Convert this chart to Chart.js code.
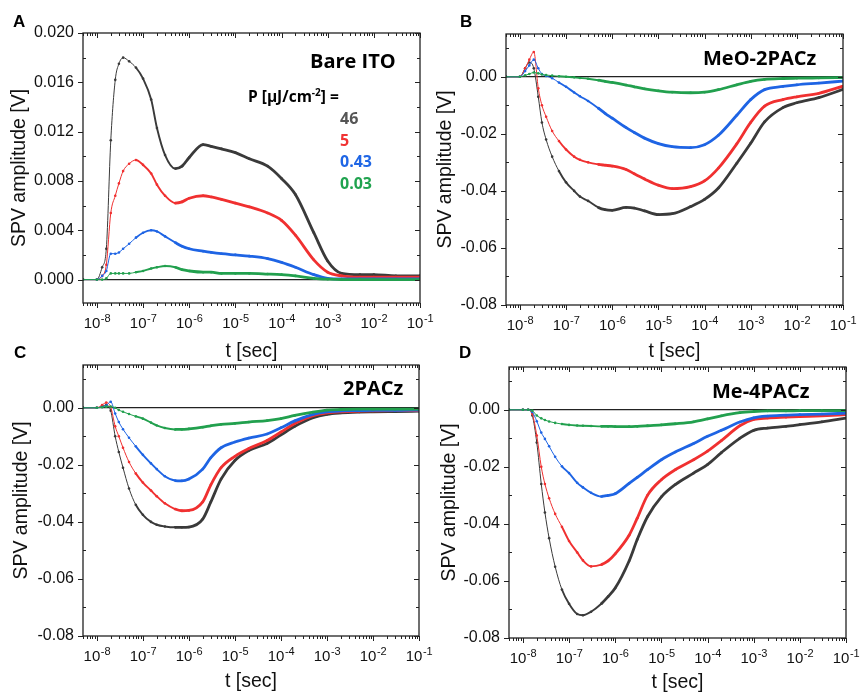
<!DOCTYPE html>
<html><head><meta charset="utf-8">
<script src="https://cdn.jsdelivr.net/npm/chart.js@4.4.1/dist/chart.umd.min.js"></script>
<style>
html,body{margin:0;padding:0;background:#fff;}
#wrap{position:relative;width:861px;height:693px;overflow:hidden;background:#fff}
canvas{position:absolute;left:0;top:0;}
</style></head><body><div id="wrap">
<canvas id="cA" width="861" height="693"></canvas>
<canvas id="cB" width="861" height="693"></canvas>
<canvas id="cC" width="861" height="693"></canvas>
<canvas id="cD" width="861" height="693"></canvas>
</div>
<script>
// ---------------- data ----------------
const tSec = [5e-9, 1e-8, 1.3e-8, 1.6e-8, 2e-8, 2.5e-8, 3e-8, 3.7e-8, 5e-8, 7e-8, 1e-7, 1.5e-7, 2e-7, 3e-7, 5e-7, 7e-7, 1e-6, 2e-6, 3e-6, 5e-6, 1e-5, 2e-5, 5e-5, 1e-4, 2e-4, 5e-4, 1e-3, 2e-3, 5e-3, 1e-2, 3e-2, 1e-1];

const seriesLabels = ['46', '5', '0.43', '0.03'];
const panelNames = ['Bare ITO', 'MeO-2PACz', '2PACz', 'Me-4PACz'];
const panelLetters = ['A', 'B', 'C', 'D'];
const yTicksA = [0, 0.004, 0.008, 0.012, 0.016, 0.020];
const yTicksSAM = [-0.08, -0.06, -0.04, -0.02, 0.00];
const xDecades = [1e-8, 1e-7, 1e-6, 1e-5, 1e-4, 1e-3, 1e-2, 1e-1];

// Panel A: Bare ITO
const A_46  = [0, 0, 0.0010, 0.0025, 0.0113, 0.0162, 0.0175, 0.0180, 0.0177, 0.0172, 0.0163, 0.0146, 0.0123, 0.0101, 0.0090, 0.0092, 0.0099, 0.01095, 0.0108, 0.0106, 0.0103, 0.0098, 0.0092, 0.0082, 0.0069, 0.0038, 0.0015, 0.0005, 0.0004, 0.0004, 0.0003, 0.0003];
const A_5   = [0, 0, 0.0003, 0.0012, 0.0054, 0.0068, 0.0078, 0.0088, 0.0094, 0.0097, 0.0093, 0.0086, 0.0077, 0.0068, 0.0062, 0.0063, 0.0066, 0.0068, 0.0067, 0.0065, 0.0062, 0.0059, 0.0054, 0.0048, 0.0036, 0.0016, 0.0006, 0.0003, 0.0002, 0.0002, 0.0002, 0.0002];
const A_043 = [0, 0, 0.0003, 0.0007, 0.0021, 0.0021, 0.0022, 0.0025, 0.0029, 0.0034, 0.0038, 0.0040, 0.0039, 0.0035, 0.0030, 0.0027, 0.0025, 0.0023, 0.0022, 0.0021, 0.0020, 0.0019, 0.0017, 0.0014, 0.0010, 0.0004, 0.0001, 0.00005, 0.00005, 0.00005, 0.00005, 0.00005];
const A_003 = [0, 0, 0, 0.0001, 0.0005, 0.0005, 0.0005, 0.0005, 0.0005, 0.0006, 0.0007, 0.0009, 0.0010, 0.0011, 0.0010, 0.0008, 0.0007, 0.0006, 0.0006, 0.0005, 0.0005, 0.0005, 0.00045, 0.0004, 0.0003, 0.0001, 0.00003, 0, 0, 0, 0, 0];

// Panel B: MeO-2PACz
const B_46  = [0, 0, 0.003, 0.005, 0.003, -0.007, -0.016, -0.022, -0.028, -0.033, -0.037, -0.040, -0.042, -0.0435, -0.0458, -0.0466, -0.0468, -0.0458, -0.0460, -0.0470, -0.0483, -0.0480, -0.0455, -0.0430, -0.0390, -0.0303, -0.0233, -0.0158, -0.0108, -0.0091, -0.0073, -0.0044];
const B_5   = [0, 0, 0.003, 0.006, 0.0087, -0.004, -0.010, -0.014, -0.019, -0.0225, -0.0255, -0.0280, -0.0291, -0.0300, -0.0307, -0.0310, -0.0313, -0.0325, -0.0340, -0.0358, -0.0380, -0.0392, -0.0385, -0.0365, -0.0320, -0.0235, -0.0160, -0.0103, -0.0080, -0.0070, -0.0058, -0.0033];
const B_043 = [0, 0, 0.002, 0.004, 0.006, 0.003, 0.001, 0.0003, -0.0005, -0.002, -0.0035, -0.0055, -0.0068, -0.0085, -0.011, -0.0128, -0.0145, -0.0178, -0.0195, -0.0215, -0.0234, -0.0245, -0.0248, -0.0238, -0.0205, -0.0135, -0.0080, -0.0045, -0.0034, -0.0028, -0.0022, -0.0015];
const B_003 = [0, 0, 0.0005, 0.001, 0.0015, 0.0012, 0.0008, 0.0006, 0.0004, 0.0002, 0, -0.0002, -0.0004, -0.0007, -0.0012, -0.0016, -0.0020, -0.0029, -0.0035, -0.0042, -0.0049, -0.0054, -0.0056, -0.0054, -0.0045, -0.0028, -0.0016, -0.0009, -0.0006, -0.0005, -0.0004, -0.0003];

// Panel C: 2PACz
const C_46  = [0, 0, 0.0005, 0.001, -0.001, -0.010, -0.0155, -0.021, -0.0283, -0.034, -0.0375, -0.0400, -0.0410, -0.0416, -0.0419, -0.0419, -0.0418, -0.0390, -0.0330, -0.0250, -0.0185, -0.0150, -0.0125, -0.0095, -0.0065, -0.0035, -0.0023, -0.0018, -0.0015, -0.0014, -0.0013, -0.0012];
const C_5   = [0, 0, 0.001, 0.0018, 0.0003, -0.0065, -0.0100, -0.0140, -0.0190, -0.0230, -0.0262, -0.0290, -0.0310, -0.0335, -0.0355, -0.0361, -0.0360, -0.0330, -0.0270, -0.0210, -0.0170, -0.0143, -0.0115, -0.0085, -0.0055, -0.0028, -0.0018, -0.0014, -0.0012, -0.0011, -0.0010, -0.0010];
const C_043 = [0, 0, 0.0003, 0.0008, 0.0021, -0.002, -0.0050, -0.0075, -0.0105, -0.0135, -0.0165, -0.0195, -0.0215, -0.0240, -0.0255, -0.0256, -0.0250, -0.0215, -0.0175, -0.0140, -0.0120, -0.0106, -0.0092, -0.0070, -0.0046, -0.0023, -0.0014, -0.0011, -0.0010, -0.0009, -0.0009, -0.0008];
const C_003 = [0, 0, 0.0002, 0.0004, 0.0004, 0, -0.0008, -0.0014, -0.0022, -0.0030, -0.0038, -0.0052, -0.0062, -0.0071, -0.0076, -0.0076, -0.0074, -0.0068, -0.0063, -0.0058, -0.0055, -0.0050, -0.0045, -0.0038, -0.0027, -0.0015, -0.0008, -0.0006, -0.0005, -0.0005, -0.0005, -0.0005];

// Panel D: Me-4PACz
const D_46  = [0, 0, 0, -0.002, -0.0115, -0.0260, -0.0360, -0.0450, -0.0550, -0.0630, -0.0680, -0.0716, -0.0720, -0.0708, -0.0680, -0.0655, -0.0625, -0.0530, -0.0455, -0.0375, -0.0305, -0.0262, -0.0222, -0.0192, -0.0150, -0.0100, -0.0072, -0.0064, -0.0058, -0.0052, -0.0042, -0.0029];
const D_5   = [0, 0, 0, -0.0015, -0.0090, -0.0200, -0.0260, -0.0310, -0.0365, -0.0410, -0.0460, -0.0500, -0.0528, -0.0549, -0.0543, -0.0530, -0.0505, -0.0440, -0.0380, -0.0300, -0.0245, -0.0210, -0.0175, -0.0145, -0.0108, -0.0056, -0.0034, -0.0029, -0.0026, -0.0024, -0.0021, -0.0017];
const D_043 = [0, 0, 0, -0.0008, -0.0040, -0.0080, -0.0102, -0.0128, -0.0165, -0.0198, -0.0222, -0.0256, -0.0272, -0.0291, -0.0304, -0.0300, -0.0294, -0.0258, -0.0237, -0.0210, -0.0175, -0.0148, -0.0118, -0.0093, -0.0072, -0.0043, -0.0028, -0.0022, -0.0019, -0.0017, -0.0015, -0.0012];
const D_003 = [0, 0, 0, -0.0003, -0.0020, -0.0030, -0.0036, -0.0041, -0.0046, -0.0050, -0.0053, -0.0055, -0.0056, -0.0057, -0.0058, -0.0058, -0.0059, -0.0059, -0.0058, -0.0056, -0.0053, -0.0049, -0.0042, -0.0032, -0.0021, -0.0010, -0.0006, -0.0004, -0.0004, -0.0003, -0.0003, -0.0003];

// ---------------- styles / layout ----------------
const seriesColors = ['#3a3a3a', '#f03030', '#1e64e4', '#22a04e'];
const legendColors = ['#555555', '#f03333', '#1f66e5', '#20a34f'];
const SANS = '"Liberation Sans", Arial, sans-serif';
const BOLD2 = '"Open Sans", "Noto Sans", sans-serif';

const panels = [
  {id:'cA', plot:{l:83, t:33, r:420, b:303}, yTitleC:19.5, xTitleC:352, yMin:-0.0019, yMax:0.020, yTicks:yTicksA, dec:3,
   series:[A_46, A_5, A_043, A_003], letter:{x:13, y:27}, name:{x:310, y:68}, legend:true},
  {id:'cB', plot:{l:506, t:34, r:843, b:305}, yTitleC:445.5, xTitleC:352, yMin:-0.08, yMax:0.015, yTicks:yTicksSAM, dec:2,
   series:[B_46, B_5, B_043, B_003], letter:{x:460, y:27}, name:{x:703, y:65}},
  {id:'cC', plot:{l:83, t:365, r:419, b:636}, yTitleC:22, xTitleC:682, yMin:-0.08, yMax:0.015, yTicks:yTicksSAM, dec:2,
   series:[C_46, C_5, C_043, C_003], letter:{x:14, y:358}, name:{x:343, y:395}},
  {id:'cD', plot:{l:509, t:367, r:846, b:638}, yTitleC:449.5, xTitleC:683, yMin:-0.08, yMax:0.015, yTicks:yTicksSAM, dec:2,
   series:[D_46, D_5, D_043, D_003], letter:{x:459, y:358}, name:{x:712, y:398}},
];

const decor = {
  id: 'decor',
  afterDatasetsDraw(chart, args, o) {
    const {ctx, chartArea: a, scales: {x, y}} = chart;
    ctx.save();
    ctx.strokeStyle = '#222';
    ctx.lineWidth = 1;
    const seg = (x1, y1, x2, y2) => { ctx.beginPath(); ctx.moveTo(x1, y1); ctx.lineTo(x2, y2); ctx.stroke(); };
    for (let e = -9; e <= -1; e++) {
      for (let m = 1; m <= 9; m++) {
        const v = m * Math.pow(10, e);
        if (v < x.min * 0.999 || v > x.max * 1.001) continue;
        const px = Math.round(x.getPixelForValue(v)) + 0.5;
        const len = m === 1 ? 5 : 3;
        seg(px, a.bottom, px, a.bottom + len);
        seg(px, a.top, px, a.top + len);
      }
    }
    const tv = y.ticks.map(t => t.value);
    const step = tv[1] - tv[0];
    tv.forEach(v => {
      const py = Math.round(y.getPixelForValue(v)) + 0.5;
      seg(a.left - 5, py, a.left, py);
      seg(a.right, py, a.right - 5, py);
    });
    for (let v = tv[0] - step / 2; v <= y.max + 1e-9; v += step) {
      if (v < y.min) continue;
      const py = Math.round(y.getPixelForValue(v)) + 0.5;
      seg(a.left, py, a.left + 3, py);
      seg(a.right, py, a.right - 3, py);
    }
    ctx.lineWidth = 1.3;
    ctx.strokeRect(a.left, a.top, a.right - a.left, a.bottom - a.top);
    ctx.restore();
  },
  afterDraw(chart, args, o) {
    const {ctx, chartArea: a, scales: {x}} = chart;
    ctx.save();
    ctx.fillStyle = '#111';
    ctx.textBaseline = 'alphabetic';
    ctx.textAlign = 'left';
    const baseY = a.bottom + 25;
    xDecades.forEach(v => {
      const px = x.getPixelForValue(v);
      const ex = String(Math.round(Math.log10(v)));
      ctx.font = '15px ' + SANS;
      const wb = ctx.measureText('10').width;
      ctx.font = '11px ' + SANS;
      const we = ctx.measureText(ex).width;
      const s = px - (wb + we) / 2;
      ctx.font = '15px ' + SANS;
      ctx.fillText('10', s, baseY);
      ctx.font = '11px ' + SANS;
      ctx.fillText(ex, s + wb + 0.5, baseY - 6);
    });
    ctx.fillStyle = '#000';
    ctx.font = 'bold 17px ' + SANS;
    ctx.fillText(o.letter, o.letterPos.x, o.letterPos.y);
    ctx.font = 'bold 20px ' + BOLD2;
    ctx.fillText(o.name, o.namePos.x, o.namePos.y);
    if (o.legend) {
      ctx.font = 'bold 15.5px ' + BOLD2;
      let lx = 248, ly = 102;
      ctx.fillText('P [\u03bcJ/cm', lx, ly);
      lx += ctx.measureText('P [\u03bcJ/cm').width;
      ctx.font = 'bold 10px ' + BOLD2;
      ctx.fillText('-2', lx, ly - 6);
      lx += ctx.measureText('-2').width;
      ctx.font = 'bold 15.5px ' + BOLD2;
      ctx.fillText('] =', lx, ly);
      ctx.font = 'bold 16px ' + BOLD2;
      const ys = [124, 146, 167, 189];
      seriesLabels.forEach((s, i) => {
        ctx.fillStyle = legendColors[i];
        ctx.fillText(s, 340, ys[i]);
      });
    }
    ctx.restore();
  }
};

Chart.defaults.font.family = SANS;
Chart.defaults.color = '#111';

panels.forEach((p, pi) => {
  const half = 9.75;
  const yW = p.plot.l - (p.yTitleC - half);
  const xH = p.xTitleC + half - p.plot.b;
  const datasets = p.series.map((arr, i) => ({
    label: seriesLabels[i],
    data: tSec.map((t, k) => ({x: t, y: arr[k]})),
    borderColor: seriesColors[i],
    backgroundColor: seriesColors[i],
    pointBackgroundColor: seriesColors[i],
    pointRadius: 1.3,
    pointBorderWidth: 0,
    pointHoverRadius: 0,
    borderWidth: 2.6,
    cubicInterpolationMode: 'monotone',
    order: 3 - i,
    segment: {
      borderWidth: c => c.p0.parsed.x < 6e-8 ? 1 : (c.p0.parsed.x < 4e-7 ? 1.9 : 2.8)
    }
  }));
  new Chart(document.getElementById(p.id), {
    type: 'line',
    data: {datasets},
    options: {
      responsive: false,
      animation: false,
      devicePixelRatio: 1,
      events: [],
      layout: {padding: {left: p.yTitleC - half, top: p.plot.t, right: 861 - p.plot.r, bottom: 693 - (p.xTitleC + half)}},
      plugins: {
        legend: {display: false},
        tooltip: {enabled: false},
        decor: {letter: panelLetters[pi], letterPos: p.letter, name: panelNames[pi], namePos: p.name, legend: !!p.legend}
      },
      scales: {
        x: {
          type: 'logarithmic',
          min: 5e-9, max: 0.1,
          border: {display: false},
          grid: {display: false, drawTicks: false},
          ticks: {display: false},
          title: {display: true, text: 't [sec]', color: '#111', font: {size: 19.5, family: SANS, lineHeight: 1}, padding: 0},
          afterFit: s => { s.height = xH; }
        },
        y: {
          type: 'linear',
          min: p.yMin, max: p.yMax,
          border: {display: false},
          grid: {drawTicks: false, lineWidth: 1.2,
                 color: c => (c.tick && Math.abs(c.tick.value) < 1e-12) ? '#222' : 'rgba(0,0,0,0)'},
          afterBuildTicks: s => { s.ticks = p.yTicks.map(v => ({value: v})); },
          ticks: {padding: 9, color: '#111', font: {size: 16, family: SANS},
                  callback: v => Number(v).toFixed(p.dec)},
          title: {display: true, text: 'SPV amplitude [V]', color: '#111', font: {size: 19.5, family: SANS, lineHeight: 1}, padding: 0},
          afterFit: s => { s.width = yW; }
        }
      }
    },
    plugins: [decor]
  });
});
</script>
</body></html>
